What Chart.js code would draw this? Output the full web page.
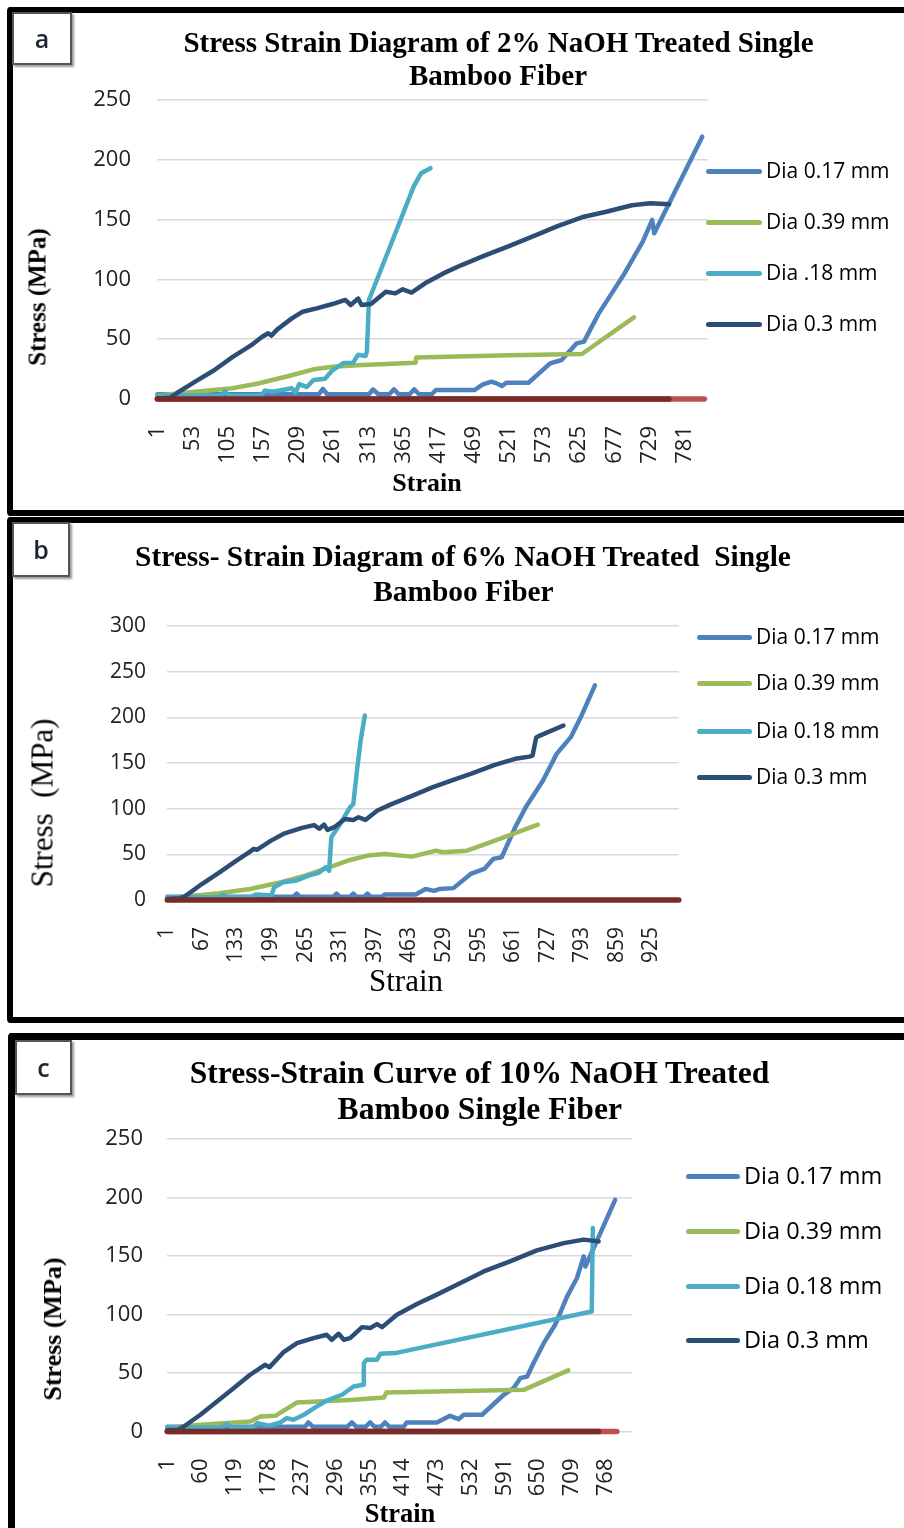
<!DOCTYPE html>
<html>
<head>
<meta charset="utf-8">
<title>Stress-strain diagrams of NaOH treated bamboo fiber</title>
<script src="https://cdn.jsdelivr.net/npm/chart.js@4.4.1/dist/chart.umd.min.js"></script>
<style>
  html, body { margin: 0; padding: 0; background: #fff; }
  body { position: relative; width: 904px; height: 1528px; overflow: hidden; }
  .panel { position: absolute; box-sizing: border-box; border: 6px solid #000; border-right: none; border-radius: 4px; width: 1000px; }
  .tag { position: absolute; box-sizing: border-box; background: #fff; border: 2px solid #555; box-shadow: 2px 2px 2px #999;
         font-family: "Open Sans", sans-serif; font-size: 25px; font-weight: 600; color: #1e2430; text-align: center; z-index: 3; }
  .txt { position: absolute; white-space: pre; line-height: 1; color: #000; z-index: 3; }
  .serif { font-family: "Liberation Serif", "Times New Roman", serif; }
  canvas { position: absolute; left: 0; z-index: 2; }
  .lg-line { position: absolute; height: 5px; border-radius: 3px; z-index: 3; }
  .lg-text { position: absolute; white-space: pre; line-height: 1; font-family: "Open Sans", sans-serif; color: #000; z-index: 3; }
</style>
</head>
<body>

<div class="panel" style="left:7px; top:7px; height:509px;"></div>
<div class="panel" style="left:7px; top:517px; height:506px;"></div>
<div class="panel" style="left:8px; top:1033px; height:600px; border-width:7px;"></div>

<div class="tag" style="left:12px; top:12px; width:60px; height:53px; line-height:49px;">a</div>
<div class="tag" style="left:12px; top:522px; width:58px; height:55px; line-height:51px;">b</div>
<div class="tag" style="left:15px; top:1040px; width:57px; height:55px; line-height:51px;">c</div>

<canvas id="chartA" width="904" height="515" style="top:0px"></canvas>
<canvas id="chartB" width="904" height="508" style="top:515px"></canvas>
<canvas id="chartC" width="904" height="498" style="top:1030px"></canvas>

<script>
// ---- data: [strain index, stress MPa] ----

// (a) 2% NaOH
const ticksA = [1, 53, 105, 157, 209, 261, 313, 365, 417, 469, 521, 573, 625, 677, 729, 781]
const a017 = [[1, 4], [240, 4], [246, 8.5], [252, 4], [314, 4], [320, 8], [328, 4], [344, 4], [351, 8], [358, 4], [374, 4], [381, 8], [388, 4],
  [407, 4], [413, 7.5], [470, 7.5], [482, 12], [495, 14.5], [503, 13], [511, 10.9], [517, 13.6], [550, 13.6], [582, 29.8], [599, 32.6],
  [621, 46.5], [632, 48], [654, 71.6], [670, 85.6], [692, 105], [719, 131.5], [733, 149.7], [736, 138.5], [807, 219.3]]
const a039 = [[1, 3], [57, 6], [112, 9], [150, 13], [194, 19], [232, 24.8], [260, 27], [304, 28.4], [383, 30.4], [384, 34.8],
  [522, 36.5], [629, 37.6], [706, 68.3]]
const a018 = [[1, 3], [96, 3], [101, 6.5], [106, 3], [155, 3], [160, 7], [172, 6], [190, 8], [200, 9], [205, 5], [211, 12.5],
  [222, 10], [232, 15.9], [249, 17], [260, 24], [276, 30], [290, 30], [298, 37], [309, 36], [311, 40], [314, 82.8], [347, 130],
  [380, 177.5], [391, 188.7], [405, 193]]
const a03 = [[1, 0.5], [20, 1], [30, 5], [57, 14.5], [85, 24], [112, 35], [140, 45], [156, 52], [165, 55], [170, 53], [178, 58],
  [200, 67.4], [216, 73], [238, 76], [260, 79.4], [279, 82.8], [287, 78.6], [298, 84], [303, 78.6], [317, 79.4], [339, 89.7],
  [353, 88.3], [364, 91.7], [377, 89], [397, 96.7], [424, 105], [451, 112], [484, 119.6], [522, 128], [561, 137], [593, 144.6],
  [632, 152.4], [665, 156.6], [703, 162], [730, 163.6], [758, 162.8]]
const aRed = [[1, 0], [810, 0]]
const aDarkRed = [[1, 0], [758, 0]]

// (b) 6% NaOH
const ticksB = [1, 67, 133, 199, 265, 331, 397, 463, 529, 595, 661, 727, 793, 859, 925]
const b017 = [[1, 3.5], [242, 3.5], [248, 7], [254, 3.5], [318, 3.5], [324, 7], [330, 3.5], [350, 3.5], [356, 7], [362, 3.5],
  [377, 3.5], [383, 7], [389, 3.5], [410, 3.5], [416, 6], [475, 6], [494, 12], [510, 10], [520, 12], [547, 13], [580, 28.5],
  [606, 34], [623, 45], [639, 46.8], [665, 79.6], [685, 101.6], [718, 130.8], [744, 160], [771, 178.3], [790, 200], [817, 235]]
const b039 = [[1, 2], [100, 7.3], [159, 12], [218, 19.4], [264, 26.7], [310, 35.8], [350, 43.8], [383, 48.6], [416, 50.4],
  [468, 47.5], [514, 54], [527, 52.3], [573, 54], [600, 59.6], [652, 70.5], [708, 82.6]]
const b018 = [[1, 3], [100, 3], [108, 6], [115, 3], [160, 3], [170, 6], [200, 5], [205, 14], [222, 19.4], [245, 21], [271, 26.7],
  [291, 30], [304, 36], [310, 32], [314, 68.7], [327, 79.6], [350, 101.6], [356, 105], [363, 141.8], [370, 174.7], [378, 202]]
const b03 = [[1, 1], [25, 2], [34, 3.7], [67, 17.5], [100, 30], [133, 43], [159, 53], [166, 56], [172, 55], [199, 65], [225, 73],
  [258, 79], [281, 82], [291, 78], [300, 82.6], [307, 76.7], [320, 79.7], [340, 88.8], [356, 87.7], [366, 90.6], [379, 87.7],
  [402, 98], [429, 105], [468, 114], [508, 123.5], [547, 131.5], [580, 138], [626, 148], [665, 154.6], [692, 157], [698, 158],
  [705, 178], [712, 180], [757, 191]]
const bDarkRed = [[1, 0], [977, 0]]

// (c) 10% NaOH
const ticksC = [1, 60, 119, 178, 237, 296, 355, 414, 473, 532, 591, 650, 709, 768]
const c017 = [[1, 4], [242, 4], [248, 7.7], [256, 4], [316, 4], [324, 7.7], [332, 4], [348, 4], [356, 7.7], [364, 4], [375, 4],
  [382, 7.7], [390, 4], [415, 4], [420, 7.7], [473, 7.7], [496, 13.4], [511, 10.5], [520, 14.3], [552, 14.3], [590, 31.4],
  [607, 37], [619, 45.6], [631, 47], [642, 58.4], [660, 75.5], [680, 91.2], [701, 115.5], [718, 131], [730, 149.7], [733, 141],
  [785, 198]]
const c039 = [[1, 3], [59, 5.7], [146, 8.6], [164, 12.8], [190, 13.4], [228, 24.8], [321, 27], [380, 29], [385, 33.4],
  [625, 35.6], [703, 52.2]]
const c018 = [[1, 3.4], [95, 3.4], [105, 6.6], [115, 3.4], [150, 3.4], [158, 7], [180, 5], [199, 7.7], [210, 11.4], [222, 10],
  [240, 14.3], [263, 21.4], [280, 26.5], [307, 31.4], [327, 38.5], [344, 40], [345, 58.4], [350, 61.3], [368, 61.3],
  [374, 66.4], [400, 67], [744, 102.6], [746, 174]]
const c03 = [[1, 1], [20, 1.5], [30, 4.3], [59, 14.3], [88, 25.7], [117, 37], [146, 48.5], [172, 57], [180, 55], [204, 67.6],
  [228, 75.5], [257, 79.8], [280, 82.7], [289, 78.4], [301, 83.5], [310, 78.4], [321, 79.8], [342, 89.2], [356, 88.4],
  [368, 91.8], [377, 89.2], [403, 99.8], [438, 109], [473, 117], [508, 125.4], [555, 136.8], [601, 145.4], [648, 154.8],
  [695, 161], [730, 164], [756, 162.5]]
const cRed = [[1, 0], [788, 0]]
const cDarkRed = [[1, 0], [756, 0]]

// ---- styling / layout ----
const BLUE = '#4f81bd', RED = '#c0504d', GREEN = '#9bbb59', CYAN = '#4bacc6', NAVY = '#2c4d75', DARKRED = '#772c2a'

function series(label, data, color) {
  return { label, data, color }
}

function buildChart(id, p) {
  const yw = 70
  const xh = 80
  const list = p.series
  return new Chart(document.getElementById(id), {
    type: 'line',
    data: {
      datasets: list.map((s, i) => ({
        label: s.label,
        data: s.data,
        borderColor: s.color,
        backgroundColor: s.color,
        // the unlabelled red series sit on the zero line and look heavier
        borderWidth: s.label ? 4.5 : 5.5,
        pointRadius: 0,
        tension: 0,
        borderCapStyle: 'round',
        borderJoinStyle: 'round',
        clip: 8,
        order: list.length - i
      }))
    },
    options: {
      responsive: false,
      animation: false,
      events: [],
      layout: {
        padding: { left: p.left - yw, right: 904 - p.right, top: p.top, bottom: p.height - p.bottom - xh }
      },
      plugins: {
        legend: { display: false },
        title: { display: false },
        tooltip: { enabled: false }
      },
      scales: {
        x: {
          type: 'linear',
          min: 0.5,
          max: p.xMax,
          grid: { display: false },
          border: { display: false },
          afterBuildTicks: s => { s.ticks = p.xTicks.map(v => ({ value: v })) },
          afterFit: s => { s.height = xh },
          ticks: {
            autoSkip: false,
            minRotation: 90,
            maxRotation: 90,
            padding: 19,
            color: '#222',
            font: { family: 'Open Sans', size: p.tickSize },
            callback: v => String(v)
          }
        },
        y: {
          min: 0,
          max: p.yMax,
          afterFit: s => { s.width = yw },
          grid: { color: '#d9d9d9', lineWidth: 1.5, drawTicks: false },
          border: { display: false },
          ticks: {
            stepSize: 50,
            padding: p.yPad,
            color: '#222',
            font: { family: 'Open Sans', size: p.tickSize }
          }
        }
      }
    }
  })
}

// text helpers (positions are page pixels)
function addText(text, cx, baseline, size, weight, cls) {
  const d = document.createElement('div')
  d.className = 'txt ' + cls
  d.textContent = text
  d.style.fontSize = size + 'px'
  d.style.fontWeight = weight
  d.style.left = cx + 'px'
  d.style.top = (baseline - 0.8375 * size) + 'px'
  d.style.transform = 'translateX(-50%)'
  document.body.appendChild(d)
}

function addVText(text, cx, cy, size, weight) {
  const d = document.createElement('div')
  d.className = 'txt serif'
  d.textContent = text
  d.style.fontSize = size + 'px'
  d.style.fontWeight = weight
  d.style.left = (cx - 0.09 * size) + 'px'
  d.style.top = cy + 'px'
  d.style.transform = 'translate(-50%, -50%) rotate(-90deg)'
  document.body.appendChild(d)
}

function addLegend(chart, lg) {
  const items = chart.data.datasets.filter(d => d.label)
  items.forEach((d, i) => {
    const y = lg.ys[i]
    const ln = document.createElement('div')
    ln.className = 'lg-line'
    ln.style.left = lg.x + 'px'
    ln.style.width = lg.w + 'px'
    ln.style.top = (y - 2.5) + 'px'
    ln.style.background = d.borderColor
    document.body.appendChild(ln)
    const t = document.createElement('div')
    t.className = 'lg-text'
    t.textContent = d.label
    t.style.fontSize = lg.size + 'px'
    t.style.left = lg.tx + 'px'
    t.style.top = (y - 0.531 * lg.size) + 'px'
    document.body.appendChild(t)
  })
}

const chartA = buildChart('chartA', {
  left: 157, right: 708, top: 100, bottom: 399, height: 515,
  xMax: 815.5, xTicks: ticksA, yMax: 250, yPad: 26, tickSize: 22,
  series: [series('Dia 0.17 mm', a017, BLUE), series('', aRed, RED), series('Dia 0.39 mm', a039, GREEN),
    series('Dia .18 mm', a018, CYAN), series('Dia 0.3 mm', a03, NAVY), series('', aDarkRed, DARKRED)]
})
const chartB = buildChart('chartB', {
  left: 167, right: 679, top: 111, bottom: 385, height: 508,
  xMax: 977.5, xTicks: ticksB, yMax: 300, yPad: 21, tickSize: 21,
  series: [series('Dia 0.17 mm', b017, BLUE), series('Dia 0.39 mm', b039, GREEN),
    series('Dia 0.18 mm', b018, CYAN), series('Dia 0.3 mm', b03, NAVY), series('', bDarkRed, DARKRED)]
})
const chartC = buildChart('chartC', {
  left: 167, right: 632, top: 109, bottom: 401.5, height: 498,
  xMax: 814.5, xTicks: ticksC, yMax: 250, yPad: 24, tickSize: 22,
  series: [series('Dia 0.17 mm', c017, BLUE), series('', cRed, RED), series('Dia 0.39 mm', c039, GREEN),
    series('Dia 0.18 mm', c018, CYAN), series('Dia 0.3 mm', c03, NAVY), series('', cDarkRed, DARKRED)]
})

addLegend(chartA, { x: 706, w: 56, tx: 766, size: 21, ys: [171, 222, 273, 324] })
addLegend(chartB, { x: 697, w: 55, tx: 756, size: 21, ys: [637, 683, 731, 777] })
addLegend(chartC, { x: 686, w: 54, tx: 744, size: 23.5, ys: [1176, 1231, 1286, 1340] })

// titles
addText('Stress Strain Diagram of 2% NaOH Treated Single', 498.5, 52, 29, 'bold', 'serif')
addText('Bamboo Fiber', 498, 85, 29, 'bold', 'serif')
addText('Stress- Strain Diagram of 6% NaOH Treated  Single', 463, 567, 29.4, 'bold', 'serif')
addText('Bamboo Fiber', 463.4, 601.5, 29.4, 'bold', 'serif')
addText('Stress-Strain Curve of 10% NaOH Treated', 479.5, 1083, 31.6, 'bold', 'serif')
addText('Bamboo Single Fiber', 479.8, 1119, 31.6, 'bold', 'serif')

// axis titles
addVText('Stress (MPa)', 39, 297, 25, 'bold')
addText('Strain', 427, 492, 26, 'bold', 'serif')
addVText('Stress  (MPa)', 45, 803, 31, 'normal')
addText('Strain', 406, 991, 31, 'normal', 'serif')
addVText('Stress (MPa)', 55, 1329, 26, 'bold')
addText('Strain', 400, 1522, 26.5, 'bold', 'serif')
</script>
</body>
</html>
